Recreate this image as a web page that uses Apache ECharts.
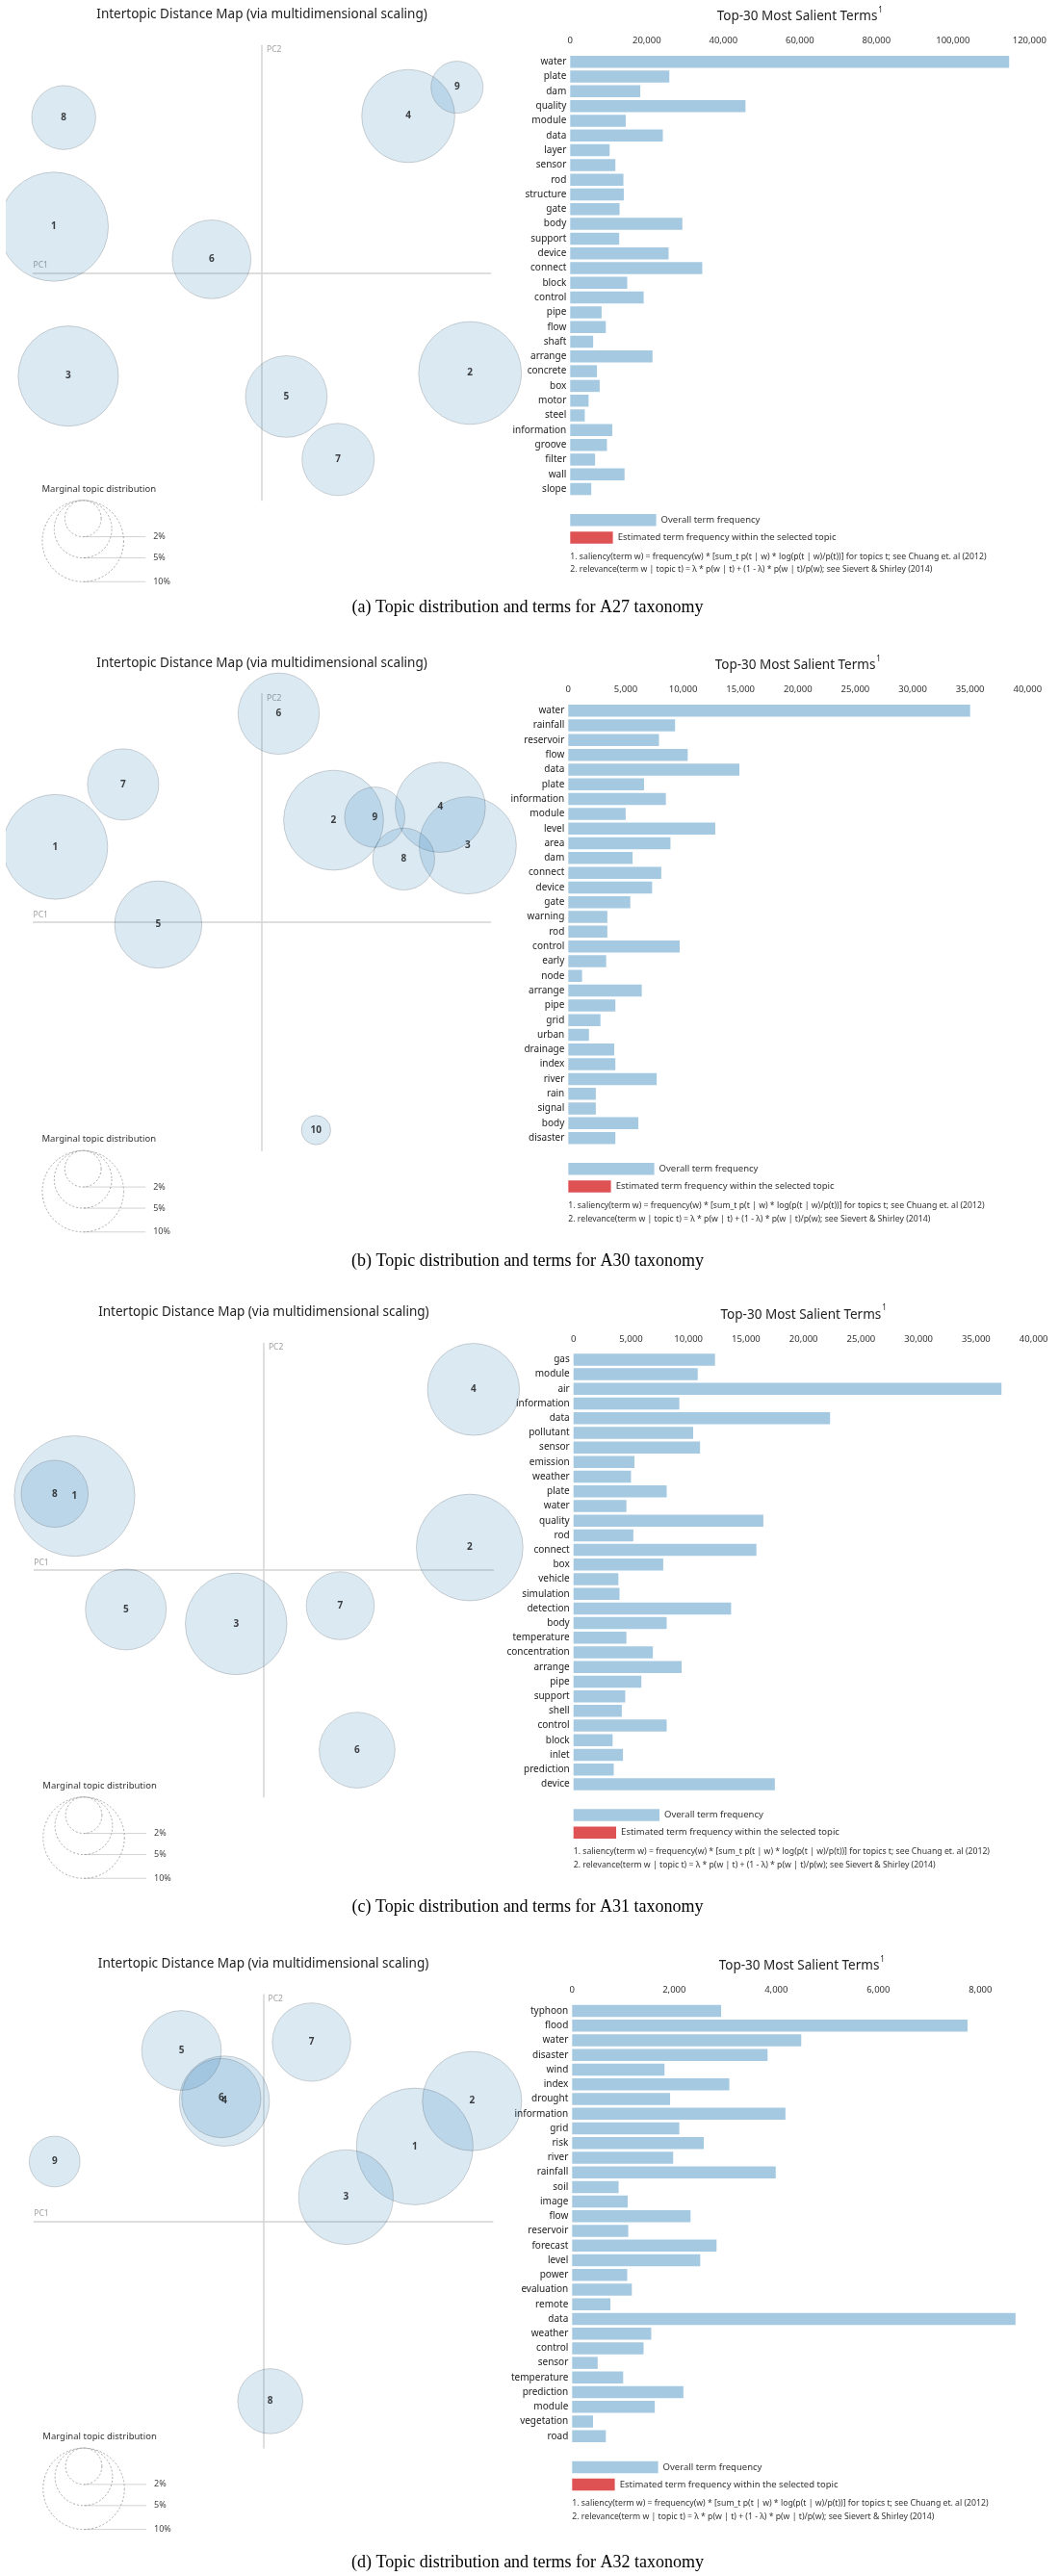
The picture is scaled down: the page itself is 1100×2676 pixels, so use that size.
<!DOCTYPE html>
<html>
<head>
<meta charset="utf-8">
<script src="https://cdn.jsdelivr.net/npm/echarts/dist/echarts.min.js"></script>
<style>
html,body{margin:0;padding:0;background:#fff;}
#chart{width:1100px;height:2676px;}
</style>
</head>
<body>
<div id="chart"></div>
<script>
// ---------------- DATA ----------------
// (a) A27
const termsA = ['water','plate','dam','quality','module','data','layer','sensor','rod','structure','gate','body','support','device','connect','block','control','pipe','flow','shaft','arrange','concrete','box','motor','steel','information','groove','filter','wall','slope'];
const freqA = [114700,25900,18300,45800,14500,24200,10300,11800,13900,14000,12900,29300,12800,25700,34500,14900,19200,8200,9300,6000,21500,7000,7700,4800,3800,11000,9600,6500,14200,5500];
const freqTicksA = [0,20000,40000,60000,80000,100000,120000];
const topicIdsA = [1,2,3,4,5,6,7,8,9];
const pc1A = [-0.273,0.273,-0.254,0.192,0.032,-0.066,0.100,-0.260,0.256];
const pc2A = [0.061,-0.132,-0.136,0.207,-0.163,0.018,-0.246,0.205,0.245];
const shareA = [18.0,16.0,15.2,13.1,10.1,9.4,7.9,6.2,4.1];

// (b) A30
const termsB = ['water','rainfall','reservoir','flow','data','plate','information','module','level','area','dam','connect','device','gate','warning','rod','control','early','node','arrange','pipe','grid','urban','drainage','index','river','rain','signal','body','disaster'];
const freqB = [35000,9300,7900,10400,14900,6600,8500,5000,12800,8900,5600,8100,7300,5400,3400,3400,9700,3300,1200,6400,4100,2800,1800,4000,4100,7700,2400,2400,6100,4100];
const freqTicksB = [0,5000,10000,15000,20000,25000,30000,35000,40000];
const topicIdsB = [1,2,3,4,5,6,7,8,9,10];
const pc1B = [-0.271,0.094,0.270,0.234,-0.136,0.022,-0.182,0.186,0.148,0.071];
const pc2B = [0.099,0.134,0.101,0.151,-0.003,0.274,0.181,0.083,0.138,-0.273];
const shareB = [16.6,15.1,14.3,12.3,11.5,10.0,7.7,5.8,5.5,1.3];

// (c) A31
const termsC = ['gas','module','air','information','data','pollutant','sensor','emission','weather','plate','water','quality','rod','connect','box','vehicle','simulation','detection','body','temperature','concentration','arrange','pipe','support','shell','control','block','inlet','prediction','device'];
const freqC = [12300,10800,37200,9200,22300,10400,11000,5300,5000,8100,4600,16500,5200,15900,7800,3900,4000,13700,8100,4600,6900,9400,5900,4500,4200,8100,3400,4300,3500,17500];
const freqTicksC = [0,5000,10000,15000,20000,25000,30000,35000,40000];
const topicIdsC = [1,2,3,4,5,6,7,8];
const pc1C = [-0.247,0.269,-0.036,0.274,-0.180,0.122,0.100,-0.273];
const pc2C = [0.098,0.030,-0.071,0.239,-0.052,-0.238,-0.047,0.101];
const shareC = [22.0,17.2,15.6,12.8,9.9,8.7,7.0,6.8];

// (d) A32
const termsD = ['typhoon','flood','water','disaster','wind','index','drought','information','grid','risk','river','rainfall','soil','image','flow','reservoir','forecast','level','power','evaluation','remote','data','weather','control','sensor','temperature','prediction','module','vegetation','road'];
const freqD = [2920,7750,4490,3830,1810,3080,1920,4180,2100,2580,1980,3990,910,1090,2320,1100,2830,2510,1080,1170,750,8690,1550,1400,500,1000,2180,1620,410,660];
const freqTicksD = [0,2000,4000,6000,8000];
const freqMaxD = 9000;
const topicIdsD = [1,2,3,4,5,6,7,8,9];
const pc1D = [0.198,0.273,0.108,-0.051,-0.107,-0.055,0.063,0.009,-0.273];
const pc2D = [0.099,0.159,0.032,0.159,0.226,0.163,0.237,-0.238,0.079];
const shareD = [20.6,14.9,13.5,12.3,9.6,9.5,9.3,6.4,3.9];

const captions = [
  '(a) Topic distribution and terms for A27 taxonomy',
  '(b) Topic distribution and terms for A30 taxonomy',
  '(c) Topic distribution and terms for A31 taxonomy',
  '(d) Topic distribution and terms for A32 taxonomy'
];
const guidePercents = [2,5,10];

// ---------------- LAYOUT / STYLE ----------------
const FONT = "'Noto Sans','DejaVu Sans',sans-serif";
const SERIF = "'Liberation Serif','DejaVu Serif',serif";
const R_PX = 13.36; // bubble radius px per sqrt(percent)
const BLUE_BAR = '#a5c9e1';
const RED_BAR = '#de5253';

const layout = [
  {mds:{left:34.5,top:47.3,width:475.1,height:472.5}, bar:{left:592.3,top:56.6,width:477,height:459.1}, cap:631.5},
  {mds:{left:34.5,top:720.8,width:475.1,height:474.5}, bar:{left:590.3,top:730.6,width:477,height:459.2}, cap:1310},
  {mds:{left:35.3,top:1395.4,width:477.2,height:471.4}, bar:{left:595.7,top:1404.8,width:478,height:456.2}, cap:1981},
  {mds:{left:35.3,top:2071.9,width:476.5,height:471.2}, bar:{left:594.3,top:2081.5,width:477,height:456.9}, cap:2662}
];

const panels = [
  {terms:termsA, freq:freqA, ticks:freqTicksA, max:freqTicksA[freqTicksA.length-1], ids:topicIdsA, pc1:pc1A, pc2:pc2A, share:shareA},
  {terms:termsB, freq:freqB, ticks:freqTicksB, max:freqTicksB[freqTicksB.length-1], ids:topicIdsB, pc1:pc1B, pc2:pc2B, share:shareB},
  {terms:termsC, freq:freqC, ticks:freqTicksC, max:freqTicksC[freqTicksC.length-1], ids:topicIdsC, pc1:pc1C, pc2:pc2C, share:shareC},
  {terms:termsD, freq:freqD, ticks:freqTicksD, max:freqMaxD, ids:topicIdsD, pc1:pc1D, pc2:pc2D, share:shareD}
];

const option = {
  animation:false,
  backgroundColor:'#ffffff',
  textStyle:{fontFamily:FONT},
  grid:[], xAxis:[], yAxis:[], series:[],
  graphic:{elements:[]}
};
const G = option.graphic.elements;
function addText(x, y, text, size, color, align, family, extra){
  const st = {text:text, fontSize:size, fontFamily:family||FONT, fill:color, align:align||'left', verticalAlign:'middle'};
  if (extra) Object.assign(st, extra);
  G.push({type:'text', x:x, y:y, silent:true, style:st});
}

panels.forEach((p, i) => {
  const L = layout[i], m = L.mds, b = L.bar;
  const gi = option.grid.length;
  option.grid.push({left:m.left, top:m.top, width:m.width, height:m.height, outerBoundsMode:'none', containLabel:false});
  option.grid.push({left:b.left, top:b.top, width:b.width, height:b.height, outerBoundsMode:'none', containLabel:false});
  const pcLine = {show:true, onZero:true, lineStyle:{color:'#d4d4d4', width:1.5}};
  option.xAxis.push({type:'value', gridIndex:gi, min:-0.3, max:0.3,
    name:'PC1', nameLocation:'start', nameGap:0,
    nameTextStyle:{align:'left', verticalAlign:'bottom', color:'#a0a0a0', fontSize:8.5, padding:[0,0,3,0]},
    axisLine:pcLine, axisTick:{show:false}, axisLabel:{show:false}, splitLine:{show:false}});
  option.yAxis.push({type:'value', gridIndex:gi, min:-0.3, max:0.3,
    name:'PC2', nameLocation:'end', nameGap:0,
    nameTextStyle:{align:'left', verticalAlign:'top', color:'#a0a0a0', fontSize:8.5, padding:[0,0,0,5]},
    axisLine:pcLine, axisTick:{show:false}, axisLabel:{show:false}, splitLine:{show:false}});
  option.series.push({
    type:'scatter', xAxisIndex:gi, yAxisIndex:gi, clip:false, silent:true,
    data:p.ids.map((id,k) => [p.pc1[k], p.pc2[k], p.share[k], id]),
    symbol:'circle',
    symbolSize:v => 2*R_PX*Math.sqrt(v[2]),
    itemStyle:{color:'rgba(31,119,180,0.2)', borderColor:'rgba(0,0,0,0.2)', borderWidth:1},
    label:{show:true, position:'inside', formatter:q => String(q.value[3]), color:'#111', fontWeight:'bold', fontSize:10, fontFamily:FONT},
    emphasis:{disabled:true}
  });

  const step = p.ticks[1] - p.ticks[0];
  option.xAxis.push({type:'value', gridIndex:gi+1, position:'top', min:0, max:p.max, interval:step,
    axisLine:{show:false}, axisTick:{show:false}, splitLine:{show:false},
    axisLabel:{color:'#333', fontSize:9.5, margin:9, fontFamily:FONT, showMaxLabel:true,
      formatter:v => (p.ticks.indexOf(v) >= 0 ? v.toLocaleString('en-US') : '')}});
  option.yAxis.push({type:'category', gridIndex:gi+1, data:p.terms, inverse:true,
    axisLine:{show:false}, axisTick:{show:false}, splitLine:{show:false},
    axisLabel:{color:'#222', fontSize:10, margin:4, interval:0, fontFamily:FONT}});
  option.series.push({type:'bar', xAxisIndex:gi+1, yAxisIndex:gi+1, data:p.freq, barWidth:12.5,
    itemStyle:{color:BLUE_BAR}, silent:true, emphasis:{disabled:true}});

  // titles
  addText(m.left + m.width/2, m.top - 32, 'Intertopic Distance Map (via multidimensional scaling)', 13.5, '#222', 'center');
  G.push({type:'text', x:b.left + b.width/2, y:b.top - 41, silent:true,
    style:{text:'{t|Top-30 Most Salient Terms}{s|1}', align:'center', verticalAlign:'middle',
      rich:{t:{fontSize:13.5, fontFamily:FONT, fill:'#222', lineHeight:18, verticalAlign:'bottom'},
            s:{fontSize:8, fontFamily:FONT, fill:'#222', lineHeight:18, verticalAlign:'top', padding:[0,0,8,1]}}}});

  // marginal topic distribution guide
  const mb = m.top + m.height;
  addText(m.left + 9, mb - 12, 'Marginal topic distribution', 9.5, '#333', 'left');
  const cx = m.left + 51.7;
  guidePercents.forEach(pc => {
    const r = R_PX*Math.sqrt(pc);
    G.push({type:'circle', silent:true, shape:{cx:cx, cy:mb + r, r:r},
      style:{fill:'none', stroke:'#aaa', lineWidth:1, lineDash:[2,2]}});
    G.push({type:'line', silent:true, shape:{x1:cx, y1:mb + 2*r, x2:cx + 65, y2:mb + 2*r},
      style:{stroke:'rgba(128,128,128,0.35)', lineWidth:1}});
    addText(cx + 73, mb + 2*r, pc + '%', 9, '#444', 'left');
  });

  // bar legend + footnotes
  const bb = b.top + b.height;
  G.push({type:'rect', silent:true, shape:{x:b.left, y:bb + 24.5 - 6.25, width:89.3, height:12.5}, style:{fill:BLUE_BAR}});
  addText(b.left + 94.3, bb + 24.5, 'Overall term frequency', 9.5, '#333', 'left');
  G.push({type:'rect', silent:true, shape:{x:b.left, y:bb + 42.7 - 6.25, width:44.3, height:12.5}, style:{fill:RED_BAR}});
  addText(b.left + 49.4, bb + 42.7, 'Estimated term frequency within the selected topic', 9.5, '#333', 'left');
  addText(b.left, bb + 62.5, '1. saliency(term w) = frequency(w) * [sum_t p(t | w) * log(p(t | w)/p(t))] for topics t; see Chuang et. al (2012)', 8.7, '#333', 'left');
  addText(b.left, bb + 76.3, '2. relevance(term w | topic t) = \u03bb * p(w | t) + (1 - \u03bb) * p(w | t)/p(w); see Sievert & Shirley (2014)', 8.7, '#333', 'left');

  // caption
  addText(548, L.cap, captions[i], 18, '#000', 'center', SERIF);
});

// cropped left edge of the original figure
G.push({type:'rect', silent:true, z:100, shape:{x:0, y:0, width:6, height:2676}, style:{fill:'#ffffff'}});

const chart = echarts.init(document.getElementById('chart'), null, {renderer:'canvas', width:1100, height:2676});
chart.setOption(option);
</script>
</body>
</html>
